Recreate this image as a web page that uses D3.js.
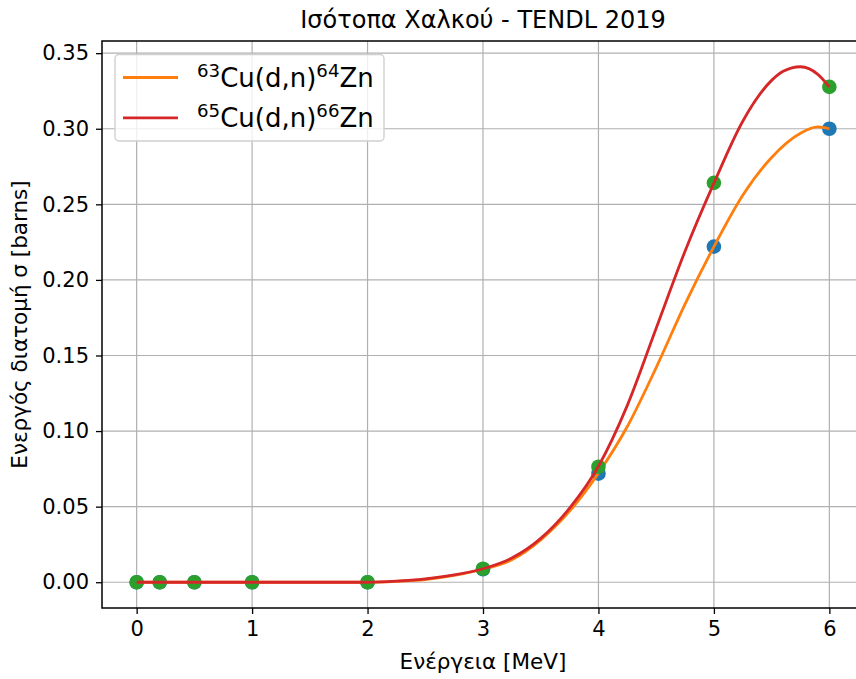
<!DOCTYPE html>
<html>
<head>
<meta charset="utf-8">
<script src="https://cdn.jsdelivr.net/npm/d3@7"></script>
<style>
  html, body { margin: 0; padding: 0; background: #fff; }
  svg { display: block; font-family: "DejaVu Sans", sans-serif; }
</style>
</head>
<body>
<svg id="chart" width="856" height="679"></svg>
<script>
// ---- data ----
const energyPts = [0, 0.2, 0.5, 1, 2, 3, 4, 5, 6];
const cu63Pts   = [0, 0, 0, 0, 0, 0.0086, 0.0718, 0.222, 0.300];
const cu65Pts   = [0, 0, 0, 0, 0, 0.0089, 0.0764, 0.2642, 0.3277];

// curve values
const curve63X = [0, 0.5, 1, 1.5, 2, 2.25, 2.5, 2.75, 3, 3.25, 3.5, 3.75, 4, 4.25, 4.5, 4.75, 5, 5.25, 5.5, 5.75, 5.9, 6];
const curve63Y = [0, 0, 0, 0, 0, 0.0006, 0.0018, 0.0045, 0.0086, 0.0148, 0.028, 0.047, 0.0722, 0.103, 0.142, 0.184, 0.222, 0.256, 0.281, 0.297, 0.3012, 0.300];
const curve65X = [0, 0.5, 1, 1.5, 2, 2.25, 2.5, 2.75, 3, 3.25, 3.5, 3.75, 4, 4.25, 4.5, 4.75, 5, 5.25, 5.5, 5.6, 5.75, 5.9, 6];
const curve65Y = [0, 0, 0, 0, 0, 0.0007, 0.0022, 0.0048, 0.0089, 0.016, 0.029, 0.049, 0.0767, 0.117, 0.168, 0.219, 0.264, 0.305, 0.332, 0.338, 0.341, 0.336, 0.3277];

const xTicks = [0, 1, 2, 3, 4, 5, 6];
const yTicks = [0, 0.05, 0.10, 0.15, 0.20, 0.25, 0.30, 0.35];

const titleText = "Ισότοπα Χαλκού - TENDL 2019";
const xLabel = "Ενέργεια [MeV]";
const yLabel = "Ενεργός διατομή σ [barns]";
const seriesNames = [["63", "Cu(d,n)", "64", "Zn"], ["65", "Cu(d,n)", "66", "Zn"]];

// ---- layout ----
const svg = d3.select("#chart");
const L = 102, R = 864, T = 41, B = 608;
const x = d3.scaleLinear().domain([-0.3, 6.3]).range([L, R]);
const yMax = 0.341, pad = yMax * 0.05;
const y = d3.scaleLinear().domain([-pad, yMax + pad]).range([B, T]);

const C0 = "#1f77b4", C1 = "#ff7f0e", C2 = "#2ca02c", C3 = "#d62728";

svg.append("defs").append("clipPath").attr("id", "clip")
  .append("rect").attr("x", L).attr("y", T).attr("width", R - L).attr("height", B - T);

// grid
const grid = svg.append("g");
grid.selectAll(".gx").data(xTicks).enter().append("line")
  .attr("x1", d => x(d)).attr("x2", d => x(d)).attr("y1", T).attr("y2", B)
  .attr("stroke", "#b0b0b0").attr("stroke-width", 1.2);
grid.selectAll(".gy").data(yTicks).enter().append("line")
  .attr("x1", L).attr("x2", R).attr("y1", d => y(d)).attr("y2", d => y(d))
  .attr("stroke", "#b0b0b0").attr("stroke-width", 1.2);

const plot = svg.append("g").attr("clip-path", "url(#clip)");
const line = d3.line().x(d => x(d[0])).y(d => y(d[1])).curve(d3.curveMonotoneX);

function scatter(vals, color) {
  plot.append("g").selectAll("circle").data(energyPts.map((e, i) => [e, vals[i]]))
    .enter().append("circle")
    .attr("cx", d => x(d[0])).attr("cy", d => y(d[1])).attr("r", 7.3)
    .attr("fill", color);
}
function curve(xs, ys, color) {
  plot.append("path").datum(xs.map((e, i) => [e, ys[i]]))
    .attr("d", line).attr("fill", "none").attr("stroke", color)
    .attr("stroke-width", 2.8).attr("stroke-linejoin", "round").attr("stroke-linecap", "butt");
}
scatter(cu63Pts, C0);
curve(curve63X, curve63Y, C1);
scatter(cu65Pts, C2);
curve(curve65X, curve65Y, C3);

// axes
const xAxis = d3.axisBottom(x).tickValues(xTicks).tickFormat(d3.format("d")).tickSize(6).tickPadding(7);
const yAxis = d3.axisLeft(y).tickValues(yTicks).tickFormat(d3.format(".2f")).tickSize(6).tickPadding(7);
const gx = svg.append("g").attr("transform", `translate(0,${B})`).call(xAxis);
const gy = svg.append("g").attr("transform", `translate(${L},0)`).call(yAxis);
[gx, gy].forEach(g => {
  g.select(".domain").remove();
  g.selectAll(".tick line").attr("stroke", "#000").attr("stroke-width", 1.3);
  g.selectAll(".tick text").attr("fill", "#000").attr("font-size", 21)
    .attr("font-family", "DejaVu Sans");
});

// spines
svg.append("rect").attr("x", L).attr("y", T).attr("width", R - L).attr("height", B - T)
  .attr("fill", "none").attr("stroke", "#000").attr("stroke-width", 1.5);

// title & labels
svg.append("text").attr("x", (L + R) / 2).attr("y", 28).attr("text-anchor", "middle")
  .attr("font-size", 24).attr("fill", "#000").text(titleText);
svg.append("text").attr("x", (L + R) / 2).attr("y", 669).attr("text-anchor", "middle")
  .attr("font-size", 21.5).attr("fill", "#000").text(xLabel);
svg.append("text").attr("transform", `translate(27,${(T + B) / 2}) rotate(-90)`)
  .attr("text-anchor", "middle").attr("font-size", 21.5).attr("fill", "#000").text(yLabel);

// legend
const lg = svg.append("g");
lg.append("rect").attr("x", 115).attr("y", 54.5).attr("width", 269).attr("height", 86.5)
  .attr("rx", 4).attr("fill", "#fff").attr("fill-opacity", 0.8)
  .attr("stroke", "#d0d0d0").attr("stroke-width", 1.4);
[C1, C3].forEach((c, i) => {
  const cy = 77.5 + i * 40.3;
  lg.append("line").attr("x1", 123).attr("x2", 178).attr("y1", cy).attr("y2", cy)
    .attr("stroke", c).attr("stroke-width", 2.8);
  const t = lg.append("text").attr("x", 197).attr("y", cy + 9.3).attr("font-size", 26).attr("fill", "#000");
  const p = seriesNames[i];
  t.append("tspan").attr("font-size", 18.2).attr("dy", -10).text(p[0]);
  t.append("tspan").attr("dy", 10).text(p[1]);
  t.append("tspan").attr("font-size", 18.2).attr("dy", -10).text(p[2]);
  t.append("tspan").attr("dy", 10).text(p[3]);
});
</script>
</body>
</html>
